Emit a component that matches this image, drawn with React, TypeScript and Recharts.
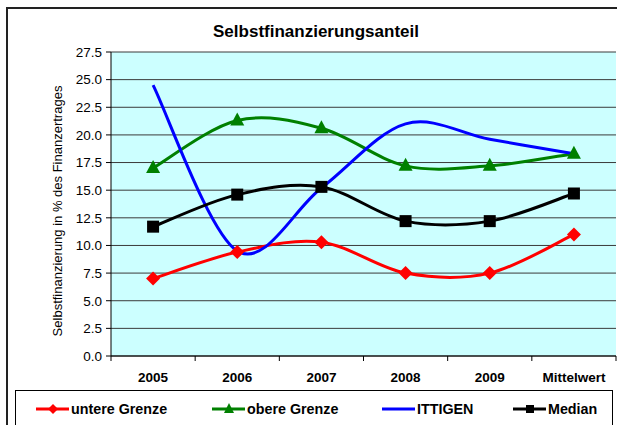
import React from 'react'
import { LineChart, Line, XAxis, YAxis, CartesianGrid } from 'recharts'

// ─── Data ────────────────────────────────────────────────────────────────────
const CATEGORIES = ['2005', '2006', '2007', '2008', '2009', 'Mittelwert']
const UNTERE     = [7.0, 9.4, 10.3, 7.5, 7.5, 11.0]
const OBERE      = [17.0, 21.3, 20.6, 17.2, 17.2, 18.3]
const ITTIGEN    = [24.5, 9.5, 15.2, 21.0, 19.6, 18.3]
const MEDIAN     = [11.7, 14.6, 15.3, 12.2, 12.2, 14.7]
const Y_TICKS    = [0, 2.5, 5, 7.5, 10, 12.5, 15, 17.5, 20, 22.5, 25, 27.5]

const data = CATEGORIES.map((c, i) => ({
  cat: c, untere: UNTERE[i], obere: OBERE[i], ittigen: ITTIGEN[i], median: MEDIAN[i],
}))

// ─── Style ───────────────────────────────────────────────────────────────────
const FONT  = '"Liberation Sans", Arial, sans-serif'
const RED   = '#ff0000'
const GREEN = '#008000'
const BLUE  = '#0000ff'
const BLACK = '#000000'
const PLOT_BG = '#ccffff'
const GRID    = '#3a3a3a'

const W = 617, H = 425
const X_AXIS_H = 30
const MARGIN = { top: 52, right: 1, left: 40, bottom: 69 - X_AXIS_H }
const Y_AXIS_W = 71
const PLOT_W = W - MARGIN.left - Y_AXIS_W - MARGIN.right
const BAND = PLOT_W / CATEGORIES.length

// Excel-like smoothed line (Catmull-Rom through the scaled points)
function excelSmooth(context: any) {
  let pts: [number, number][] = []
  return {
    areaStart() {}, areaEnd() {},
    lineStart() { pts = [] },
    point(x: number, y: number) { pts.push([+x, +y]) },
    lineEnd() {
      const n = pts.length
      if (!n) return
      context.moveTo(pts[0][0], pts[0][1])
      for (let i = 0; i < n - 1; i++) {
        const p0 = pts[Math.max(i - 1, 0)], p1 = pts[i], p2 = pts[i + 1], p3 = pts[Math.min(i + 2, n - 1)]
        context.bezierCurveTo(
          p1[0] + (p2[0] - p0[0]) / 6, p1[1] + (p2[1] - p0[1]) / 6,
          p2[0] - (p3[0] - p1[0]) / 6, p2[1] - (p3[1] - p1[1]) / 6,
          p2[0], p2[1],
        )
      }
    },
  }
}

// ─── Markers ─────────────────────────────────────────────────────────────────
const Diamond = ({ cx, cy }: any) => (
  <path d={`M${cx},${cy - 7}L${cx + 7},${cy}L${cx},${cy + 7}L${cx - 7},${cy}Z`} fill={RED} />
)
const Triangle = ({ cx, cy }: any) => (
  <path d={`M${cx},${cy - 8}L${cx + 7},${cy + 5}L${cx - 7},${cy + 5}Z`} fill={GREEN} />
)
const Square = ({ cx, cy }: any) => (
  <rect x={cx - 6} y={cy - 6} width={12} height={12} fill={BLACK} />
)

// ─── X tick: label centred, tick mark at category boundary ───────────────────
function XTick({ x, y, payload, index }: any) {
  const left = x - BAND / 2
  return (
    <g>
      <line x1={left} y1={y - 5} x2={left} y2={y} stroke={BLACK} />
      {index === CATEGORIES.length - 1 && (
        <line x1={left + BAND} y1={y - 5} x2={left + BAND} y2={y} stroke={BLACK} />
      )}
      <text x={x} y={y + 21} textAnchor="middle" fontSize={13.5} fontWeight={700} fontFamily={FONT} fill={BLACK}>
        {payload.value}
      </text>
    </g>
  )
}

function YLabel() {
  return (
    <text x={57} y={211} transform="rotate(-90 57 211)" textAnchor="middle" dominantBaseline="central"
      fontSize={13} fontFamily={FONT} fill={BLACK}>
      Selbstfinanzierung in % des Finanzertrages
    </text>
  )
}

const LEGEND_ITEMS = [
  { name: 'untere Grenze', color: RED,   x: 35,  marker: 'diamond' },
  { name: 'obere Grenze',  color: GREEN, x: 211, marker: 'triangle' },
  { name: 'ITTIGEN',       color: BLUE,  x: 381, marker: 'none' },
  { name: 'Median',        color: BLACK, x: 512, marker: 'square' },
]

function LegendBox() {
  return (
    <svg width={598} height={40} style={{ display: 'block' }}>
      {LEGEND_ITEMS.map(it => {
        const x0 = it.x - 15, cy = 18, cx = x0 + 17
        return (
          <g key={it.name}>
            <line x1={x0} y1={cy} x2={x0 + 33} y2={cy} stroke={it.color} strokeWidth={3} />
            {it.marker === 'diamond' && <path d={`M${cx},${cy - 5}L${cx + 5},${cy}L${cx},${cy + 5}L${cx - 5},${cy}Z`} fill={it.color} />}
            {it.marker === 'triangle' && <path d={`M${cx},${cy - 6}L${cx + 5},${cy + 4}L${cx - 5},${cy + 4}Z`} fill={it.color} />}
            {it.marker === 'square' && <rect x={cx - 4} y={cy - 4} width={8} height={8} fill={it.color} />}
            <text x={x0 + 35} y={cy} dominantBaseline="central" fontSize={14.3} fontWeight={700} fontFamily={FONT} fill={BLACK}>
              {it.name}
            </text>
          </g>
        )
      })}
    </svg>
  )
}

export default function App() {
  return (
    <div style={{ position: 'fixed', left: 0, top: 0, width: W, height: H, overflow: 'hidden', background: '#fff' }}>
      <div style={{ position: 'absolute', left: 6, top: 7, width: 660, height: 480, border: '2px solid #222', boxSizing: 'border-box' }} />
      <div style={{ position: 'absolute', left: 7, width: 618, top: 22, textAlign: 'center', fontFamily: FONT, fontWeight: 700, fontSize: 17 }}>
        Selbstfinanzierungsanteil
      </div>
      <div style={{ position: 'absolute', left: 0, top: 0 }}>
        <LineChart width={W} height={H} data={data} margin={MARGIN}>
          <CartesianGrid vertical={false} stroke={GRID} fill={PLOT_BG} fillOpacity={1} />
          <XAxis dataKey="cat" scale="band" height={X_AXIS_H} tick={<XTick />} tickLine={false} tickSize={5} tickMargin={0}
            axisLine={{ stroke: BLACK }} interval={0} />
          <YAxis domain={[0, 27.5]} ticks={Y_TICKS} width={Y_AXIS_W} interval={0}
            tickFormatter={(v: number) => v.toFixed(1)}
            tick={{ fontSize: 13.5, fill: BLACK, fontFamily: FONT }}
            tickLine={{ stroke: BLACK }} tickSize={5} tickMargin={4}
            axisLine={{ stroke: BLACK }} label={<YLabel />} />
          <Line dataKey="untere" type={excelSmooth as any} stroke={RED} strokeWidth={3} dot={<Diamond />} activeDot={false} isAnimationActive={false} />
          <Line dataKey="obere" type={excelSmooth as any} stroke={GREEN} strokeWidth={3} dot={<Triangle />} activeDot={false} isAnimationActive={false} />
          <Line dataKey="ittigen" type={excelSmooth as any} stroke={BLUE} strokeWidth={3} dot={false} activeDot={false} isAnimationActive={false} />
          <Line dataKey="median" type={excelSmooth as any} stroke={BLACK} strokeWidth={3} dot={<Square />} activeDot={false} isAnimationActive={false} />
        </LineChart>
      </div>
      <div style={{ position: 'absolute', left: 15, top: 390, width: 598, height: 50, border: '1px solid #000', background: '#fff', boxSizing: 'border-box' }}>
        <LegendBox />
      </div>
    </div>
  )
}
